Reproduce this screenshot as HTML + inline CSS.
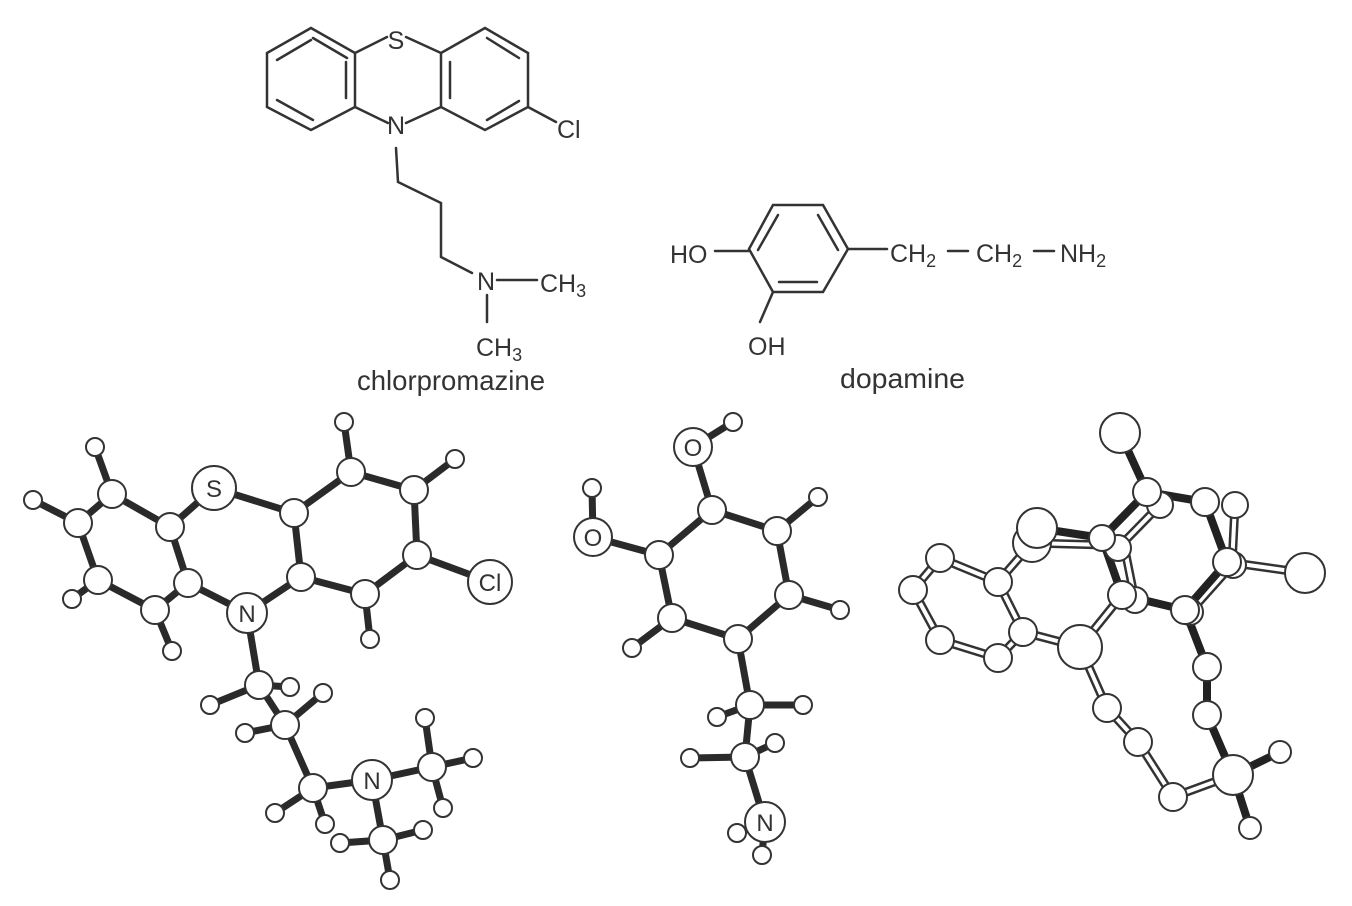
<!DOCTYPE html>
<html><head><meta charset="utf-8"><style>
html,body{margin:0;padding:0;background:#fff;}
svg{display:block;}
text{font-family:"Liberation Sans",sans-serif;fill:#333;}
</style></head><body>
<svg width="1352" height="906" viewBox="0 0 1352 906" xmlns="http://www.w3.org/2000/svg">
<g stroke="#333" stroke-width="2.5" fill="none" stroke-linecap="round">
<polygon points="311,28 355,53 355,107 311,130 267,107 267,53"/>
<line x1="313" y1="38" x2="347" y2="58"/><line x1="346" y1="62" x2="346" y2="98"/><line x1="313" y1="120" x2="277" y2="100"/>
<line x1="277" y1="60" x2="311" y2="40"/>
<polygon points="441,53 485,28 528,53 528,107 485,130 441,107"/>
<line x1="450" y1="62" x2="450" y2="98"/><line x1="487" y1="38" x2="519" y2="58"/><line x1="487" y1="120" x2="519" y2="101"/>
<line x1="355" y1="53" x2="387" y2="37"/><line x1="406" y1="37" x2="441" y2="53"/>
<line x1="355" y1="107" x2="388" y2="123"/><line x1="406" y1="123" x2="441" y2="107"/>
<line x1="528" y1="107" x2="556" y2="122"/>
<polyline points="396,148 398,182 441,203 441,257 472,273"/>
<line x1="497" y1="280" x2="537" y2="280"/>
<line x1="487" y1="295" x2="487" y2="322"/>
</g>
<text x="396" y="49" font-size="25" text-anchor="middle">S</text>
<text x="396" y="134" font-size="25" text-anchor="middle">N</text>
<text x="557" y="138" font-size="25">Cl</text>
<text x="486" y="290" font-size="25" text-anchor="middle">N</text>
<text x="540" y="292" font-size="25">CH<tspan font-size="18" dy="5">3</tspan></text>
<text x="476" y="356" font-size="25">CH<tspan font-size="18" dy="5">3</tspan></text>
<text x="357" y="390" font-size="28" textLength="188" lengthAdjust="spacingAndGlyphs">chlorpromazine</text>
<g stroke="#333" stroke-width="2.5" fill="none" stroke-linecap="round">
<polygon points="773,205 823,205 848,249 823,292 773,292 749,249"/>
<line x1="778" y1="215" x2="758" y2="250"/><line x1="818" y1="215" x2="838" y2="250"/><line x1="779" y1="282" x2="817" y2="282"/>
<line x1="715" y1="251" x2="749" y2="251"/><line x1="773" y1="292" x2="760" y2="322"/>
<line x1="848" y1="249" x2="887" y2="249"/>
<line x1="948" y1="251" x2="968" y2="251"/><line x1="1034" y1="251" x2="1054" y2="251"/>
</g>
<text x="670" y="263" font-size="25">HO</text>
<text x="748" y="355" font-size="25">OH</text>
<text x="890" y="262" font-size="25">CH<tspan font-size="18" dy="5">2</tspan></text>
<text x="976" y="262" font-size="25">CH<tspan font-size="18" dy="5">2</tspan></text>
<text x="1060" y="262" font-size="25">NH<tspan font-size="18" dy="5">2</tspan></text>
<text x="840" y="388" font-size="28" textLength="125" lengthAdjust="spacingAndGlyphs">dopamine</text>

<g stroke="#2a2a2a" stroke-width="7" stroke-linecap="round">
<line x1="95" y1="447" x2="112" y2="494"/><line x1="33" y1="500" x2="78" y2="523"/>
<line x1="112" y1="494" x2="78" y2="523"/><line x1="112" y1="494" x2="170" y2="527"/>
<line x1="170" y1="527" x2="214" y2="488"/><line x1="214" y1="488" x2="294" y2="513"/>
<line x1="294" y1="513" x2="351" y2="472"/><line x1="351" y1="472" x2="344" y2="422"/>
<line x1="351" y1="472" x2="414" y2="490"/><line x1="414" y1="490" x2="455" y2="459"/>
<line x1="414" y1="490" x2="417" y2="555"/><line x1="417" y1="555" x2="490" y2="582"/>
<line x1="417" y1="555" x2="365" y2="594"/><line x1="365" y1="594" x2="370" y2="639"/>
<line x1="365" y1="594" x2="301" y2="577"/><line x1="301" y1="577" x2="294" y2="513"/>
<line x1="301" y1="577" x2="247" y2="613"/><line x1="247" y1="613" x2="188" y2="583"/>
<line x1="188" y1="583" x2="170" y2="527"/><line x1="188" y1="583" x2="155" y2="610"/>
<line x1="155" y1="610" x2="172" y2="651"/><line x1="155" y1="610" x2="98" y2="580"/>
<line x1="98" y1="580" x2="72" y2="599"/><line x1="98" y1="580" x2="78" y2="523"/>
<line x1="247" y1="613" x2="259" y2="685"/><line x1="259" y1="685" x2="290" y2="687"/>
<line x1="259" y1="685" x2="210" y2="705"/><line x1="259" y1="685" x2="285" y2="725"/>
<line x1="285" y1="725" x2="323" y2="693"/><line x1="285" y1="725" x2="245" y2="733"/>
<line x1="285" y1="725" x2="313" y2="788"/><line x1="313" y1="788" x2="275" y2="813"/>
<line x1="313" y1="788" x2="325" y2="824"/><line x1="313" y1="788" x2="372" y2="780"/>
<line x1="372" y1="780" x2="432" y2="767"/><line x1="432" y1="767" x2="425" y2="718"/>
<line x1="432" y1="767" x2="473" y2="758"/><line x1="432" y1="767" x2="443" y2="808"/>
<line x1="372" y1="780" x2="383" y2="840"/><line x1="383" y1="840" x2="340" y2="843"/>
<line x1="383" y1="840" x2="423" y2="830"/><line x1="383" y1="840" x2="390" y2="880"/>
</g>
<g fill="#fff" stroke="#333" stroke-width="2">
<circle cx="95" cy="447" r="9"/><circle cx="33" cy="500" r="9"/><circle cx="344" cy="422" r="9"/><circle cx="455" cy="459" r="9"/>
<circle cx="370" cy="639" r="9"/><circle cx="172" cy="651" r="9"/><circle cx="72" cy="599" r="9"/>
<circle cx="112" cy="494" r="14"/><circle cx="78" cy="523" r="14"/><circle cx="170" cy="527" r="14"/>
<circle cx="294" cy="513" r="14"/><circle cx="351" cy="472" r="14"/><circle cx="414" cy="490" r="14"/>
<circle cx="417" cy="555" r="14"/><circle cx="365" cy="594" r="14"/><circle cx="301" cy="577" r="14"/>
<circle cx="188" cy="583" r="14"/><circle cx="155" cy="610" r="14"/><circle cx="98" cy="580" r="14"/>
<circle cx="214" cy="488" r="22"/><circle cx="490" cy="582" r="22"/><circle cx="247" cy="613" r="20"/>
<circle cx="210" cy="705" r="9"/><circle cx="259" cy="685" r="14"/><circle cx="290" cy="687" r="9"/>
<circle cx="323" cy="693" r="9"/><circle cx="245" cy="733" r="9"/><circle cx="285" cy="725" r="14"/>
<circle cx="275" cy="813" r="9"/><circle cx="325" cy="824" r="9"/><circle cx="313" cy="788" r="14"/>
<circle cx="425" cy="718" r="9"/><circle cx="473" cy="758" r="9"/><circle cx="443" cy="808" r="9"/><circle cx="432" cy="767" r="14"/>
<circle cx="340" cy="843" r="9"/><circle cx="423" cy="830" r="9"/><circle cx="390" cy="880" r="9"/><circle cx="383" cy="840" r="14"/>
<circle cx="372" cy="780" r="20"/>
</g>
<text x="214" y="497" font-size="24" text-anchor="middle">S</text>
<text x="490" y="591" font-size="24" text-anchor="middle">Cl</text>
<text x="247" y="622" font-size="24" text-anchor="middle">N</text>
<text x="372" y="789" font-size="24" text-anchor="middle">N</text>

<g stroke="#2a2a2a" stroke-width="7" stroke-linecap="round">
<line x1="733" y1="422" x2="693" y2="447"/><line x1="693" y1="447" x2="712" y2="510"/>
<line x1="592" y1="488" x2="593" y2="537"/><line x1="593" y1="537" x2="659" y2="555"/>
<line x1="712" y1="510" x2="659" y2="555"/><line x1="712" y1="510" x2="777" y2="531"/>
<line x1="777" y1="531" x2="818" y2="497"/><line x1="777" y1="531" x2="789" y2="595"/>
<line x1="789" y1="595" x2="840" y2="610"/><line x1="789" y1="595" x2="738" y2="639"/>
<line x1="738" y1="639" x2="672" y2="618"/><line x1="672" y1="618" x2="659" y2="555"/>
<line x1="672" y1="618" x2="632" y2="648"/><line x1="738" y1="639" x2="750" y2="705"/>
<line x1="750" y1="705" x2="803" y2="705"/><line x1="750" y1="705" x2="717" y2="717"/>
<line x1="750" y1="705" x2="745" y2="757"/><line x1="745" y1="757" x2="690" y2="758"/>
<line x1="745" y1="757" x2="775" y2="743"/><line x1="745" y1="757" x2="765" y2="822"/>
<line x1="765" y1="822" x2="737" y2="833"/><line x1="765" y1="822" x2="762" y2="855"/>
</g>
<g fill="#fff" stroke="#333" stroke-width="2">
<circle cx="733" cy="422" r="9"/><circle cx="592" cy="488" r="9"/><circle cx="818" cy="497" r="9"/>
<circle cx="840" cy="610" r="9"/><circle cx="632" cy="648" r="9"/><circle cx="717" cy="717" r="9"/><circle cx="803" cy="705" r="9"/>
<circle cx="712" cy="510" r="14"/><circle cx="659" cy="555" r="14"/><circle cx="777" cy="531" r="14"/>
<circle cx="789" cy="595" r="14"/><circle cx="738" cy="639" r="14"/><circle cx="672" cy="618" r="14"/>
<circle cx="750" cy="705" r="14"/><circle cx="690" cy="758" r="9"/><circle cx="745" cy="757" r="14"/><circle cx="775" cy="743" r="9"/>
<circle cx="737" cy="833" r="9"/><circle cx="762" cy="855" r="9"/>
<circle cx="693" cy="447" r="19"/><circle cx="593" cy="537" r="19"/><circle cx="765" cy="822" r="20"/>
</g>
<text x="693" y="456" font-size="24" text-anchor="middle">O</text>
<text x="593" y="546" font-size="24" text-anchor="middle">O</text>
<text x="765" y="831" font-size="24" text-anchor="middle">N</text>

<g stroke-linecap="round">
<g stroke="#333" stroke-width="9">
<line x1="940" y1="558" x2="913" y2="590"/><line x1="913" y1="590" x2="940" y2="640"/>
<line x1="940" y1="640" x2="998" y2="658"/><line x1="998" y1="658" x2="1023" y2="632"/>
<line x1="1023" y1="632" x2="998" y2="582"/><line x1="998" y1="582" x2="940" y2="558"/>
<line x1="998" y1="582" x2="1032" y2="543"/><line x1="1023" y1="632" x2="1080" y2="647"/>
<line x1="1080" y1="647" x2="1122" y2="595"/><line x1="1080" y1="647" x2="1107" y2="708"/>
<line x1="1107" y1="708" x2="1138" y2="742"/><line x1="1138" y1="742" x2="1173" y2="797"/>
<line x1="1173" y1="797" x2="1233" y2="775"/><line x1="1227" y1="562" x2="1305" y2="573"/>
<line x1="1032" y1="543" x2="1105" y2="545"/><line x1="1118" y1="548" x2="1160" y2="505"/>
<line x1="1125" y1="550" x2="1135" y2="600"/><line x1="1235" y1="505" x2="1232" y2="565"/>
<line x1="1232" y1="565" x2="1190" y2="612"/>
</g>
<g stroke="#fff" stroke-width="4">
<line x1="940" y1="558" x2="913" y2="590"/><line x1="913" y1="590" x2="940" y2="640"/>
<line x1="940" y1="640" x2="998" y2="658"/><line x1="998" y1="658" x2="1023" y2="632"/>
<line x1="1023" y1="632" x2="998" y2="582"/><line x1="998" y1="582" x2="940" y2="558"/>
<line x1="998" y1="582" x2="1032" y2="543"/><line x1="1023" y1="632" x2="1080" y2="647"/>
<line x1="1080" y1="647" x2="1122" y2="595"/><line x1="1080" y1="647" x2="1107" y2="708"/>
<line x1="1107" y1="708" x2="1138" y2="742"/><line x1="1138" y1="742" x2="1173" y2="797"/>
<line x1="1173" y1="797" x2="1233" y2="775"/><line x1="1227" y1="562" x2="1305" y2="573"/>
<line x1="1032" y1="543" x2="1105" y2="545"/><line x1="1118" y1="548" x2="1160" y2="505"/>
<line x1="1125" y1="550" x2="1135" y2="600"/><line x1="1235" y1="505" x2="1232" y2="565"/>
<line x1="1232" y1="565" x2="1190" y2="612"/>
</g>
<g stroke="#222" stroke-width="8">
<line x1="1120" y1="433" x2="1147" y2="492"/><line x1="1147" y1="492" x2="1205" y2="502"/>
<line x1="1205" y1="502" x2="1227" y2="562"/><line x1="1227" y1="562" x2="1185" y2="610"/>
<line x1="1185" y1="610" x2="1122" y2="595"/><line x1="1122" y1="595" x2="1102" y2="538"/>
<line x1="1102" y1="538" x2="1147" y2="492"/><line x1="1037" y1="528" x2="1102" y2="538"/>
<line x1="1185" y1="610" x2="1207" y2="667"/><line x1="1207" y1="667" x2="1207" y2="715"/>
<line x1="1207" y1="715" x2="1233" y2="775"/><line x1="1233" y1="775" x2="1280" y2="752"/>
<line x1="1233" y1="775" x2="1250" y2="828"/>
</g>
</g>
<g fill="#fff" stroke="#333" stroke-width="2">
<circle cx="1032" cy="543" r="19"/><circle cx="1037" cy="528" r="20"/>
<circle cx="940" cy="558" r="14"/><circle cx="913" cy="590" r="14"/><circle cx="940" cy="640" r="14"/>
<circle cx="998" cy="658" r="14"/><circle cx="1023" cy="632" r="14"/><circle cx="998" cy="582" r="14"/>
<circle cx="1160" cy="505" r="13"/><circle cx="1118" cy="548" r="13"/><circle cx="1235" cy="505" r="13"/>
<circle cx="1233" cy="565" r="13"/><circle cx="1190" cy="612" r="13"/><circle cx="1135" cy="600" r="13"/>
<circle cx="1120" cy="433" r="20"/><circle cx="1147" cy="492" r="14"/><circle cx="1205" cy="502" r="14"/>
<circle cx="1227" cy="562" r="14"/><circle cx="1185" cy="610" r="14"/><circle cx="1122" cy="595" r="14"/>
<circle cx="1102" cy="538" r="13"/><circle cx="1305" cy="573" r="20"/><circle cx="1080" cy="647" r="22"/>
<circle cx="1107" cy="708" r="14"/><circle cx="1138" cy="742" r="14"/><circle cx="1173" cy="797" r="14"/>
<circle cx="1207" cy="667" r="14"/><circle cx="1207" cy="715" r="14"/>
<circle cx="1233" cy="775" r="20"/><circle cx="1280" cy="752" r="11"/><circle cx="1250" cy="828" r="11"/>
</g>
</svg>
</body></html>
